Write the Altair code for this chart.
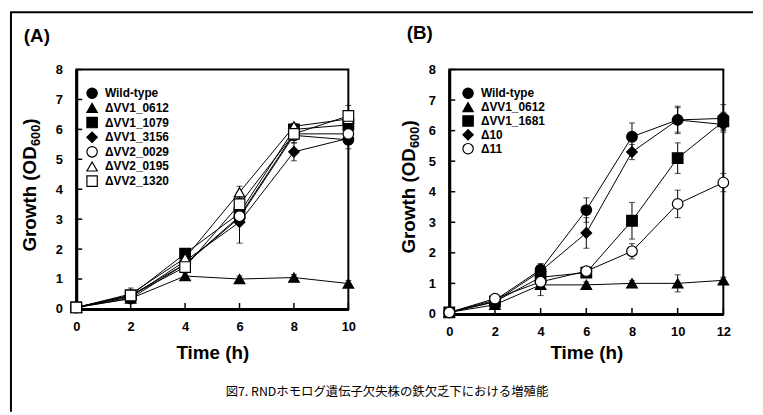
import altair as alt
import pandas as pd

FONT = "Liberation Sans"
JFONT = "Noto Sans CJK JP"

# ---------------- Panel A data ----------------
A_times = [0, 2, 4, 6, 8, 10]
A_series = ["Wild-type", "ΔVV1_0612", "ΔVV1_1079", "ΔVV1_3156", "ΔVV2_0029", "ΔVV2_0195", "ΔVV2_1320"]
A_shapes = ["circle", "triangle-up", "square", "diamond", "circle", "triangle-up", "square"]
A_fills = ["black", "black", "black", "black", "white", "white", "white"]
A_wild = [0.05, 0.35, 1.50, 3.05, 5.80, 5.65]
A_0612 = [0.05, 0.35, 1.10, 1.00, 1.05, 0.85]
A_1079 = [0.05, 0.45, 1.85, 3.20, 6.00, 6.15]
A_3156 = [0.05, 0.40, 1.60, 2.90, 5.25, 5.70]
A_0029 = [0.05, 0.45, 1.50, 3.10, 5.85, 5.85]
A_0195 = [0.05, 0.50, 1.70, 3.90, 6.10, 6.35]
A_1320 = [0.05, 0.45, 1.40, 3.50, 5.85, 6.45]
A_err_wild = [0, 0.05, 0.10, 0.20, 0.15, 0.30]
A_err_0612 = [0, 0.05, 0.10, 0.10, 0.10, 0.10]
A_err_1079 = [0, 0.05, 0.10, 0.20, 0.15, 0.20]
A_err_3156 = [0, 0.10, 0.10, 0.70, 0.30, 0.20]
A_err_0029 = [0, 0.05, 0.10, 0.20, 0.15, 0.20]
A_err_0195 = [0, 0.20, 0.10, 0.20, 0.10, 0.20]
A_err_1320 = [0, 0.05, 0.10, 0.20, 0.30, 0.35]
A_vals = [A_wild, A_0612, A_1079, A_3156, A_0029, A_0195, A_1320]
A_errs = [A_err_wild, A_err_0612, A_err_1079, A_err_3156, A_err_0029, A_err_0195, A_err_1320]
A_xticks = [0, 2, 4, 6, 8, 10]

# ---------------- Panel B data ----------------
B_times = [0, 2, 4, 6, 8, 10, 12]
B_series = ["Wild-type", "ΔVV1_0612", "ΔVV1_1681", "Δ10", "Δ11"]
B_shapes = ["circle", "triangle-up", "square", "diamond", "circle"]
B_fills = ["black", "black", "black", "black", "white"]
B_wild = [0.05, 0.45, 1.45, 3.40, 5.80, 6.35, 6.40]
B_0612 = [0.05, 0.30, 0.95, 0.95, 1.00, 1.00, 1.10]
B_1681 = [0.05, 0.40, 1.20, 1.35, 3.05, 5.10, 6.30]
B_d10 = [0.05, 0.40, 1.40, 2.65, 5.30, 6.35, 6.20]
B_d11 = [0.05, 0.50, 1.05, 1.40, 2.05, 3.60, 4.30]
B_err_wild = [0, 0.05, 0.20, 0.40, 0.45, 0.45, 0.45]
B_err_0612 = [0, 0.10, 0.35, 0.10, 0.10, 0.28, 0.10]
B_err_1681 = [0, 0.05, 0.10, 0.10, 0.60, 0.50, 0.30]
B_err_d10 = [0, 0.05, 0.10, 0.50, 0.25, 0.40, 0.15]
B_err_d11 = [0, 0.05, 0.10, 0.10, 0.25, 0.45, 0.30]
B_vals = [B_wild, B_0612, B_1681, B_d10, B_d11]
B_errs = [B_err_wild, B_err_0612, B_err_1681, B_err_d10, B_err_d11]
B_xticks = [0, 2, 4, 6, 8, 10, 12]

Y_ticks = [0, 1, 2, 3, 4, 5, 6, 7, 8]
X_TITLE = "Time (h)"
Y_TITLE_MAIN = "Growth (OD"
Y_TITLE_SUB = "600"
Y_TITLE_END = ")"
CAPTION = "図7. RNDホモログ遺伝子欠失株の鉄欠乏下における増殖能"


def text_layer(s, x, y, size, weight="bold", angle=0, align="left", baseline="middle", font=FONT):
    return alt.Chart(pd.DataFrame({"s": [s]})).mark_text(
        font=font, fontSize=size, fontWeight=weight, angle=angle, align=align,
        baseline=baseline, color="black"
    ).encode(text="s:N", x=alt.value(x), y=alt.value(y))


def legend_layers(series, shapes, fills, x0, y0, dy):
    out = []
    for i, (s, sh, f) in enumerate(zip(series, shapes, fills)):
        d = pd.DataFrame({"s": [s]})
        out.append(alt.Chart(d).mark_point(filled=False, size=110, strokeWidth=1.2, opacity=1).encode(
            x=alt.value(x0), y=alt.value(y0 + i * dy), shape=alt.value(sh),
            fill=alt.value(f), stroke=alt.value("black"), fillOpacity=alt.value(1)))
        out.append(text_layer(s, x0 + 13, y0 + i * dy, 12))
    return out


def panel(series, shapes, fills, times, vals, errs, W, H, xticks, label, label_xy,
          legend_xy, legend_dy, ytitle_x, ytitle_y, title_pad, extra=None):
    rows = []
    for s, vs, es in zip(series, vals, errs):
        for t, v, e in zip(times, vs, es):
            rows.append({"series": s, "t": t, "v": v, "e": e, "lo": v - e, "hi": v + e})
    df = pd.DataFrame(rows)
    dfe = df[df.e > 0]

    xscale = alt.Scale(domain=[0, max(times)], nice=False)
    yscale = alt.Scale(domain=[0, 8], nice=False)
    xaxis = alt.Axis(values=xticks, title=X_TITLE, labelPadding=12,
                     titlePadding=title_pad, labelFlush=False, labelOverlap=False)
    yaxis = alt.Axis(values=Y_ticks, title=None, labelPadding=14,
                     labelOverlap=False, labelFlush=False)
    X = alt.X("t:Q", scale=xscale, axis=xaxis)

    def Yf(field):
        return alt.Y(field, scale=yscale, axis=yaxis)

    lines = alt.Chart(df).mark_line(color="black", strokeWidth=1).encode(
        x=X, y=Yf("v:Q"), detail="series:N", order="t:Q")
    err_rule = alt.Chart(dfe).mark_rule(color="black", strokeWidth=1).encode(
        x=X, y=Yf("lo:Q"), y2="hi:Q")
    cap_hi = alt.Chart(dfe).mark_tick(color="black", thickness=1, size=6,
                                      orient="horizontal").encode(x=X, y=Yf("hi:Q"))
    cap_lo = alt.Chart(dfe).mark_tick(color="black", thickness=1, size=6,
                                      orient="horizontal").encode(x=X, y=Yf("lo:Q"))
    points = alt.Chart(df).mark_point(filled=False, size=115, strokeWidth=1.2,
                                      opacity=1).encode(
        x=X, y=Yf("v:Q"),
        shape=alt.Shape("series:N", scale=alt.Scale(domain=series, range=shapes), legend=None),
        fill=alt.Fill("series:N", scale=alt.Scale(domain=series, range=fills), legend=None),
        stroke=alt.value("black"),
        fillOpacity=alt.value(1),
    )
    yt = alt.Chart(pd.DataFrame({"v": [v for v in Y_ticks if v > 0]})).mark_rule(
        color="black", strokeWidth=1.5).encode(y=Yf("v:Q"), x=alt.value(0), x2=alt.value(6))
    xt = alt.Chart(pd.DataFrame({"t": [t for t in xticks if t > 0]})).mark_rule(
        color="black", strokeWidth=1.5).encode(x=X, y=alt.value(H), y2=alt.value(H - 6))

    main_len = 19 * 5.611
    sub_len = 13 * 1.668
    t1 = text_layer(Y_TITLE_MAIN, ytitle_x, ytitle_y, 19, angle=270)
    t2 = text_layer(Y_TITLE_SUB, ytitle_x + 6, ytitle_y - main_len, 13, angle=270)
    t3 = text_layer(Y_TITLE_END, ytitle_x, ytitle_y - main_len - sub_len, 19, angle=270)
    lab = text_layer(label, label_xy[0], label_xy[1], 19)

    layers = [lines, err_rule, cap_hi, cap_lo, points, yt, xt, t1, t2, t3, lab]
    layers += legend_layers(series, shapes, fills, legend_xy[0], legend_xy[1], legend_dy)
    if extra:
        layers += extra
    return alt.layer(*layers).properties(width=W, height=H)


one = pd.DataFrame({"k": [0]})
border = [
    alt.Chart(one).mark_rule(color="black", strokeWidth=2).encode(
        x=alt.value(-66), y=alt.value(-58), y2=alt.value(346)),
    alt.Chart(one).mark_rule(color="black", strokeWidth=2).encode(
        x=alt.value(-67), x2=alt.value(684), y=alt.value(-58)),
    text_layer(CAPTION, 314, 326, 12.5, weight="normal", align="center", font=JFONT),
]

pA = panel(A_series, A_shapes, A_fills, A_times, A_vals, A_errs, 275, 242, A_xticks,
           "(A)", (-53, -34), (16, 24), 14.8, -46.5, 184, 10, extra=border)
pB = panel(B_series, B_shapes, B_fills, B_times, B_vals, B_errs, 277, 247, B_xticks,
           "(B)", (-43, -37), (19, 24), 14.0, -41, 186, 5)

chart = alt.hconcat(pA, pB, spacing=102, bounds="flush").resolve_scale(
    shape="independent", fill="independent", x="independent", y="independent"
).properties(
    padding={"left": 0, "top": 0, "right": 0, "bottom": 0}
).configure_axis(
    domainColor="black", domainWidth=3, ticks=False, grid=False,
    labelFont=FONT, labelFontSize=13, labelFontWeight="bold", labelColor="black",
    titleFont=FONT, titleFontSize=19, titleFontWeight="bold", titleColor="black",
).configure_view(stroke="black", strokeWidth=2)

chart.save("out.html", embed_options={"renderer": "svg", "actions": False})
